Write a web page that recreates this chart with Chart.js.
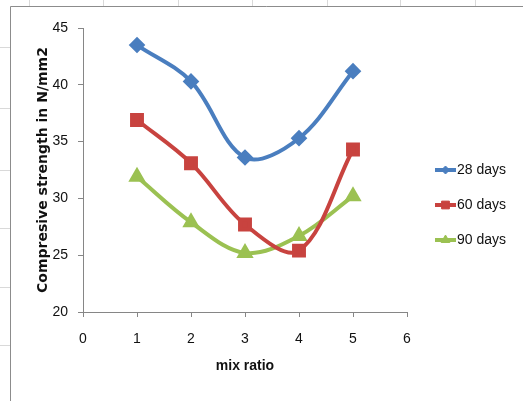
<!DOCTYPE html>
<html lang="en">
<head>
    <meta charset="UTF-8">
    <title>Compressive strength vs mix ratio</title>
    <script src="https://cdn.jsdelivr.net/npm/chart.js"></script>
    <style>
        html, body { margin: 0; padding: 0; background: #fff; }
        #wrap { width: 523px; height: 401px; }
    </style>
</head>
<body>
    <div id="wrap"><canvas id="strengthChart" width="523" height="401"></canvas></div>
    <script>
        // values
        const mixRatio = [1, 2, 3, 4, 5];
        const days28 = [43.5, 40.3, 33.6, 35.3, 41.2];
        const days60 = [36.9, 33.1, 27.7, 25.4, 34.3];
        const days90 = [31.9, 27.9, 25.2, 26.7, 30.2];
        const seriesNames = ['28 days', '60 days', '90 days'];
        const xTicks = [0, 1, 2, 3, 4, 5, 6];
        const yTicks = [20, 25, 30, 35, 40, 45];

        const fontFam = "'Liberation Sans Narrow', 'Liberation Sans', sans-serif";
        const colors = ['#4a7ebf', '#c8433f', '#9bc152'];
        const markers = ['rectRot', 'rect', 'triangle'];
        const markerSize = [5.5, 7, 6];
        const legendMarkerSize = [4, 5.5, 5];

        function toPoints(vals) {
            return mixRatio.map((x, i) => ({ x: x, y: vals[i] }));
        }

        // sheet frame behind the chart
        const framePlugin = {
            id: 'frame',
            beforeDraw(chart) {
                const ctx = chart.ctx;
                ctx.save();
                ctx.fillStyle = '#fff';
                ctx.fillRect(0, 0, chart.width, chart.height);
                ctx.strokeStyle = '#d9d9d9';
                ctx.lineWidth = 1;
                [29, 103, 178, 252, 327, 400, 475].forEach(x => {
                    ctx.beginPath(); ctx.moveTo(x + 0.5, 0); ctx.lineTo(x + 0.5, 6); ctx.stroke();
                });
                [47, 108, 170, 228, 287, 345].forEach(y => {
                    ctx.beginPath(); ctx.moveTo(0, y + 0.5); ctx.lineTo(10, y + 0.5); ctx.stroke();
                });
                ctx.strokeStyle = '#8c8c8c';
                ctx.beginPath();
                ctx.moveTo(chart.width, 6.5);
                ctx.lineTo(10.5, 6.5);
                ctx.lineTo(10.5, chart.height);
                ctx.stroke();
                ctx.restore();
            }
        };

        // excel style legend: line with marker in the middle
        const legendPlugin = {
            id: 'sideLegend',
            afterDraw(chart) {
                const ctx = chart.ctx;
                const rows = [170, 205, 240];
                ctx.save();
                chart.data.datasets.forEach((ds, i) => {
                    const y = rows[i];
                    ctx.strokeStyle = ds.borderColor;
                    ctx.fillStyle = ds.borderColor;
                    ctx.lineWidth = 4;
                    ctx.beginPath();
                    ctx.moveTo(435, y);
                    ctx.lineTo(456, y);
                    ctx.stroke();
                    ctx.lineWidth = 1;
                    Chart.helpers.drawPoint(ctx, {
                        pointStyle: ds.pointStyle,
                        radius: legendMarkerSize[i],
                        rotation: 0,
                        borderWidth: 1
                    }, 445.5, y);
                    ctx.fillStyle = '#111';
                    ctx.font = '14px ' + fontFam;
                    ctx.textBaseline = 'middle';
                    ctx.fillText(ds.label, 457, y);
                });
                ctx.restore();
            }
        };

        const allSeries = [days28, days60, days90];
        const datasets = allSeries.map((vals, i) => ({
            label: seriesNames[i],
            data: toPoints(vals),
            borderColor: colors[i],
            backgroundColor: colors[i],
            borderWidth: 4,
            tension: 0.35,
            pointStyle: markers[i],
            pointRadius: markerSize[i],
            pointHoverRadius: markerSize[i],
            pointBorderColor: colors[i],
            pointBackgroundColor: colors[i]
        }));

        new Chart(document.getElementById('strengthChart'), {
            type: 'line',
            data: { datasets: datasets },
            options: {
                responsive: false,
                animation: false,
                devicePixelRatio: 1,
                layout: { padding: { left: 33, right: 116, top: 28, bottom: 19 } },
                plugins: {
                    legend: { display: false },
                    tooltip: { enabled: false }
                },
                scales: {
                    x: {
                        type: 'linear',
                        min: 0,
                        max: 6,
                        afterBuildTicks: s => { s.ticks = xTicks.map(v => ({ value: v })); },
                        afterFit: s => { s.height = 70; },
                        grid: { drawOnChartArea: false, tickLength: 5, color: '#868686' },
                        border: { color: '#868686' },
                        ticks: { color: '#111', padding: 14, font: { family: fontFam, size: 14 } },
                        title: {
                            display: true,
                            text: 'mix ratio',
                            color: '#111',
                            padding: { top: 0, bottom: 7 },
                            font: { family: fontFam, size: 14, weight: 'bold' }
                        }
                    },
                    y: {
                        min: 20,
                        max: 45,
                        afterBuildTicks: s => { s.ticks = yTicks.map(v => ({ value: v })); },
                        afterFit: s => { s.width = 50; },
                        grid: { drawOnChartArea: false, tickLength: 5, color: '#868686' },
                        border: { color: '#868686' },
                        ticks: { color: '#111', padding: 10, font: { family: fontFam, size: 14 } },
                        title: {
                            display: true,
                            text: 'Compresive strength in N/mm2',
                            color: '#111',
                            padding: { top: 2, bottom: 0 },
                            font: { family: "'DejaVu Sans', sans-serif", size: 14, weight: 'bold' }
                        }
                    }
                }
            },
            plugins: [framePlugin, legendPlugin]
        });
    </script>
</body>
</html>
